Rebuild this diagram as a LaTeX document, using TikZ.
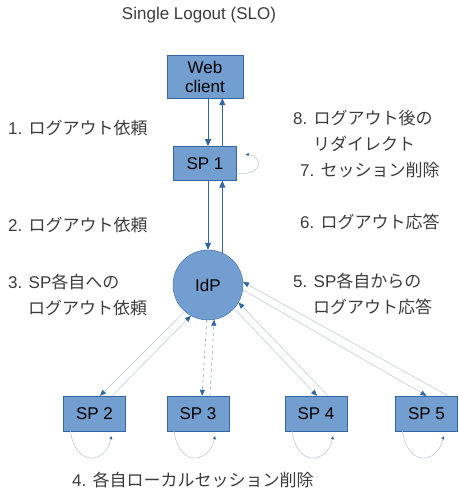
\documentclass[tikz,border=0pt]{standalone}
\usepackage{fontspec}
\setmainfont{Liberation Sans}
\newfontfamily\jp{Noto Sans CJK JP}
\usetikzlibrary{arrows.meta,positioning}
\definecolor{boxfill}{HTML}{729FCF}
\definecolor{boxline}{HTML}{3465A4}
\definecolor{paleline}{HTML}{C2CCDB}
\definecolor{dashline}{HTML}{8AA6D0}
\definecolor{loopline}{HTML}{B8C2D2}
\definecolor{labelgray}{HTML}{3C3C3C}
\begin{document}
\begin{tikzpicture}[x=1pt,y=1pt,node distance=48pt,>=Stealth,
  every node/.style={font=\fontsize{17}{26}\selectfont},
  spbox/.style={draw=boxline,fill=boxfill,minimum width=62pt,minimum height=35pt,inner sep=2pt},
  lbl/.style={text=labelgray,anchor=west,align=left,inner sep=0pt},
  heavy/.style={draw=boxline,line width=1pt,-{Triangle[width=6pt,length=7pt]}},
  faint/.style={draw=paleline,line width=0.6pt,-{Triangle[width=5pt,length=6pt,color=boxline]}},
  selfline/.style={draw=loopline,line width=0.5pt,-{Triangle[width=3pt,length=3pt,color=boxline]}}]
\useasboundingbox (0,0) rectangle (458,500);
\node[text=labelgray] (title) at (199,485) {Single Logout (SLO)};
\node[spbox,minimum width=76pt,minimum height=43pt,align=center,font=\fontsize{17}{19}\selectfont] (web) at (205,423.5) {Web\\client};
\node[spbox,below=of web,minimum width=63pt,minimum height=34pt] (sp1) {SP 1};
\node[circle,draw=boxline,fill=boxfill,minimum size=70pt] (idp) at (208,215) {IdP};
\node[spbox] (sp2) at (94.5,86.5) {SP 2};
\node[spbox] (sp3) at (198,86.5) {SP 3};
\node[spbox] (sp4) at (316,86.5) {SP 4};
\node[spbox] (sp5) at (426.5,86.5) {SP 5};
\node[lbl] (l1) at (8,372) {1. {\jp ログアウト依頼}};
\node[lbl] (l2) at (8,275) {2. {\jp ログアウト依頼}};
\node[lbl] (l3) at (8,204.5) {3. SP{\jp 各自への}\\\hspace*{20pt}{\jp ログアウト依頼}};
\node[lbl] (l8) at (293,369) {8. {\jp ログアウト後の}\\\hspace*{20pt}{\jp リダイレクト}};
\node[lbl] (l7) at (300,330) {7. {\jp セッション削除}};
\node[lbl] (l6) at (300,278) {6. {\jp ログアウト応答}};
\node[lbl] (l5) at (293,206.5) {5. SP{\jp 各自からの}\\\hspace*{20pt}{\jp ログアウト応答}};
\node[lbl] (l4) at (72,20) {4. {\jp 各自ローカルセッション削除}};
\draw[heavy] (idp.north |- web.south) -- (idp.north |- sp1.north);
\draw[heavy] (idp.66 |- sp1.north) -- (idp.66 |- web.south);
\draw[heavy] (idp.north |- sp1.south) -- (idp.north);
\draw[heavy] (idp.66) -- (idp.66 |- sp1.south);
\draw[selfline] ([yshift=7pt]sp1.south east) .. controls +(28,-2) and +(17,-1) .. ([xshift=9pt,yshift=9pt]sp1.east);
\draw[faint] (idp.229) -- ([xshift=5.5pt]sp2.north);
\draw[faint] ([xshift=17.5pt]sp2.north) -- (idp.241);
\draw[faint,draw=dashline,dashed] (idp.268) -- ([xshift=4pt]sp3.north);
\draw[faint,draw=dashline,dashed] ([xshift=12pt]sp3.north) -- (idp.280);
\draw[faint] (idp.318) -- ([xshift=1pt]sp4.north);
\draw[faint] ([xshift=12pt]sp4.north) -- (idp.330);
\draw[faint] (idp.352) -- (sp5.north);
\draw[faint] ([xshift=21.5pt]sp5.north) -- (idp.5);
\foreach \n in {sp2,sp3,sp4,sp5}
  \draw[selfline] ([xshift=-24pt]\n.south) .. controls +(5,-36) and +(-6,-28) .. ([xshift=17pt,yshift=-5pt]\n.south);
\end{tikzpicture}
\end{document}
